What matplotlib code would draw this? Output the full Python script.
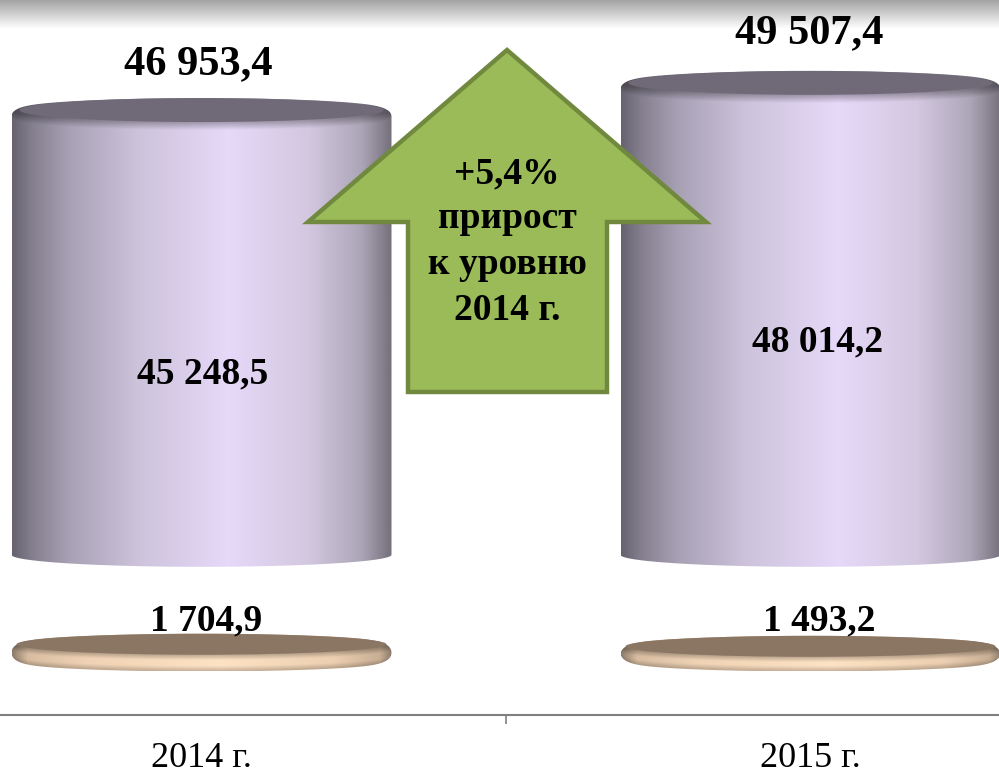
import numpy as np
import matplotlib; matplotlib.use('Agg')
import matplotlib.pyplot as plt
from matplotlib.colors import LinearSegmentedColormap
from matplotlib.patches import Ellipse, PathPatch, Polygon
from matplotlib.path import Path
from matplotlib.transforms import Affine2D

W, H = 999, 773

# Data
years = ['2014 г.', '2015 г.']
main_vals = [45248.5, 48014.2]
small_vals = [1704.9, 1493.2]
total_vals = [46953.4, 49507.4]
main_labels = ['45 248,5', '48 014,2']
small_labels = ['1 704,9', '1 493,2']
total_labels = ['46 953,4', '49 507,4']
arrow_lines = ['+5,4%', 'прирост', 'к уровню', '2014 г.']

# Axes scale: px per value unit, the main series floats above the small one
PX_PER_UNIT = 0.00983
BASE_PX = 661
AXIS_PX = 715
BODY_BASE = 10800
XC0, X_STEP = 201.5, 609.0
BAR_W = 380 / X_STEP

plt.rcParams['font.family'] = ['Liberation Serif', 'DejaVu Serif']

fig = plt.figure(figsize=(W / 100, H / 100), dpi=100)
ax = fig.add_axes([0, 0, 1, 1])
ax.set_xlim(-XC0 / X_STEP, (W - XC0) / X_STEP)
ax.set_ylim((BASE_PX - H) / PX_PER_UNIT, BASE_PX / PX_PER_UNIT)
ax.patch.set_alpha(0)

# pixel coords for the decorative bits (y goes down)
px = Affine2D().scale(1, -1).translate(0, H) + Affine2D().scale(fig.dpi / 100)

body_cmap = LinearSegmentedColormap.from_list('body', [
    (0.0, '#68636f'), (0.05, '#847f8f'), (0.15, '#a8a1b5'), (0.33, '#cdc3db'),
    (0.57, '#e6d9f9'), (0.78, '#d3c8e0'), (0.92, '#ada6b8'), (1.0, '#76717d')])
disc_cmap = LinearSegmentedColormap.from_list('disc', [
    (0.0, '#8f7d6c'), (0.04, '#d8bda1'), (0.2, '#f0d3b5'),
    (0.55, '#fde2c3'), (0.85, '#eccfb1'), (0.97, '#c8ae94'), (1.0, '#8f7d6c')])


def solid(xc, v0, v1, ry_px, cmap, top_color, z, rim=8.0, top_drop=6.0, bot_rise=0.0, inset=8.0):
    """Cylinder from value v0 to v1, gradient image clipped to a rounded outline."""
    ry = ry_px / PX_PER_UNIT
    w = BAR_W
    t = np.linspace(-1, 1, 800)
    xs = xc + t * w / 2
    up = np.sqrt(1 - t**2)
    corner = 1 - np.sqrt(1 - np.abs(t)**20)
    upper = v1 + ry * up - top_drop / PX_PER_UNIT * corner
    lower = v0 - ry * up + bot_rise / PX_PER_UNIT * corner
    outline = np.concatenate([
        np.column_stack([xs, lower]),
        np.column_stack([xs[::-1], upper[::-1]]),
        [[xs[0], lower[0]]]])
    clip = PathPatch(Path(outline), transform=ax.transData, fc='none', ec='none')
    ax.add_patch(clip)

    ny = max(int((v1 - v0 + 2 * ry) * PX_PER_UNIT), 4) * 2
    nx = 800
    grad = cmap(np.linspace(0, 1, nx))[:, :3]
    img = np.tile(grad[None, :, :], (ny, 1, 1))
    yy = np.linspace(v1 + ry, v0 - ry, ny)
    # soft shaded rim right below the top face
    front = v1 - ry * up
    d = (front[None, :] - yy[:, None]) * PX_PER_UNIT
    shade = 0.72 + 0.28 * np.clip(d / rim, 0, 1)
    if bot_rise > 0:
        back = v0 - ry * up
        d2 = (yy[:, None] - back[None, :]) * PX_PER_UNIT
        shade = shade * (0.8 + 0.2 * np.clip(d2 / 5.0, 0, 1))
    img = img * shade[:, :, None]
    im = ax.imshow(img, extent=[xc - w / 2, xc + w / 2, v0 - ry, v1 + ry],
                   aspect='auto', zorder=z, interpolation='bilinear')
    im.set_clip_path(clip)
    ax.add_patch(Ellipse((xc, v1), w - 2 * inset / X_STEP, 2 * ry, fc=top_color, ec='none', zorder=z + 0.1))


# band across the top of the slide
band = np.linspace(0.64, 1.0, 60)[:, None]
ax.imshow(band, cmap='gray', vmin=0, vmax=1, aspect='auto', zorder=0.5,
          extent=[0, W, 29, 0], transform=px)

x = np.arange(len(years))
for i in x:
    solid(i, 0, small_vals[i], 10.5, disc_cmap, '#8a7663', 2, rim=6.0, top_drop=8.0, bot_rise=8.0, inset=5.0)
    solid(i, BODY_BASE, BODY_BASE + main_vals[i], 12, body_cmap, '#706a78', 2)

# growth arrow
arrow_xy = [(507, 50), (706, 222), (607, 222), (607, 392), (408, 392), (408, 222), (308, 222)]
ax.add_patch(Polygon(arrow_xy, closed=True, fc='#9bbb59', ec='#71893f', lw=3.2,
                     joinstyle='miter', transform=px, zorder=5))
for line, py in zip(arrow_lines, [174, 219, 264, 311]):
    ax.text(507, py, line, transform=px, ha='center', va='center',
            fontsize=27, fontweight='bold', color='black', zorder=6)

# value labels
total_dx = [-2, -1]
total_dy = [33, 35.5]
main_dx = [1, 5]
main_dy = [-30, -17]
small_dx = [3, 6]
small_dy = [16.5, 18]
for i in x:
    mid = BODY_BASE + main_vals[i] / 2
    ax.annotate(total_labels[i], (i, BODY_BASE + main_vals[i]), xytext=(total_dx[i], total_dy[i]),
                textcoords='offset points', ha='center', va='center',
                fontsize=30.5, fontweight='bold', zorder=6)
    ax.annotate(main_labels[i], (i, mid), xytext=(main_dx[i], main_dy[i]),
                textcoords='offset points', ha='center', va='center',
                fontsize=27, fontweight='bold', zorder=6)
    ax.annotate(small_labels[i], (i, small_vals[i]), xytext=(small_dx[i], small_dy[i]),
                textcoords='offset points', ha='center', va='center',
                fontsize=27, fontweight='bold', zorder=6)

# category axis
for side in ['top', 'left', 'right']:
    ax.spines[side].set_visible(False)
ax.spines['bottom'].set_position(('data', (BASE_PX - AXIS_PX) / PX_PER_UNIT))
ax.spines['bottom'].set_color('#808080')
ax.spines['bottom'].set_linewidth(1.5)
ax.spines['bottom'].set_zorder(1)
ax.set_yticks([])
ax.set_xticks([0.5])
ax.set_xticklabels([''])
ax.tick_params(axis='x', which='major', length=6.5, width=1.2, color='#808080')
ax.set_xticks(x, minor=True)
ax.set_xticklabels(years, minor=True, fontsize=26)
ax.tick_params(axis='x', which='minor', length=0, pad=19.5)

ax.set_xlim(-XC0 / X_STEP, (W - XC0) / X_STEP)
ax.set_ylim((BASE_PX - H) / PX_PER_UNIT, BASE_PX / PX_PER_UNIT)
fig.savefig('out.png', dpi=100)
